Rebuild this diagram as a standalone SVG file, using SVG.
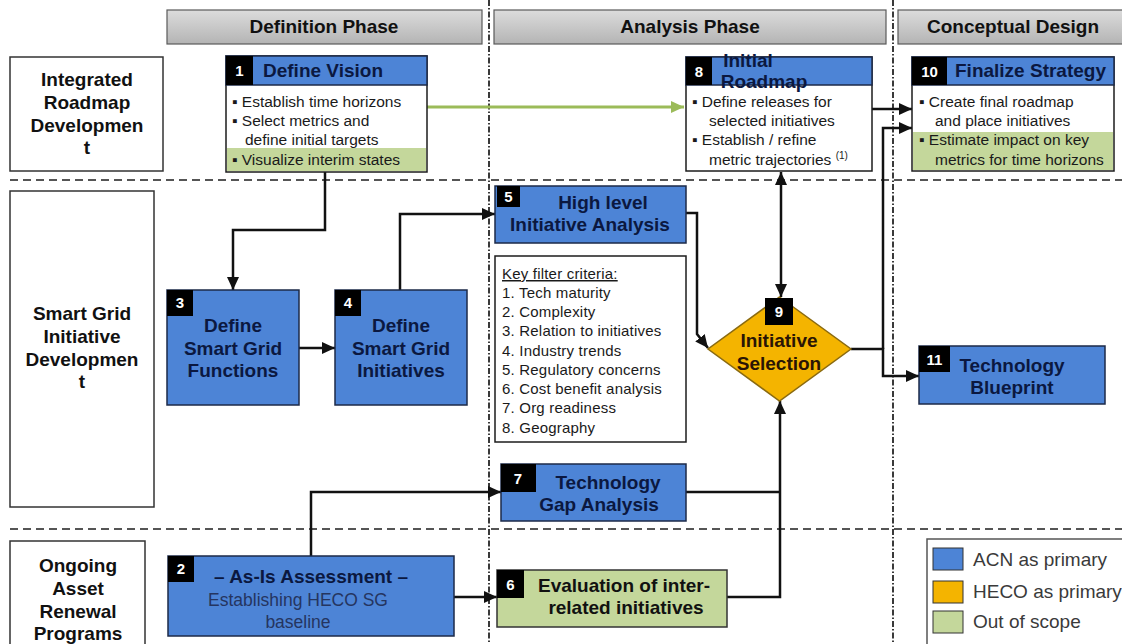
<svg xmlns="http://www.w3.org/2000/svg" width="1122" height="644" viewBox="0 0 1122 644">
<style>
.hdr{fill:url(#gray);stroke:#5a5a5a;stroke-width:1.2}
.hdrt{font-family:"Liberation Sans",Arial,sans-serif;font-weight:bold;font-size:19px;fill:#111;text-anchor:middle}
.lbl{fill:#fff;stroke:#333;stroke-width:1.5}
.lblt{font-family:"Liberation Sans",Arial,sans-serif;font-weight:bold;font-size:19px;fill:#111;text-anchor:middle}
.blue{fill:#4d84d6;stroke:#1c2a48;stroke-width:1.5}
.green{fill:#c4d79b}
.white{fill:#fff;stroke:#1c1c1c;stroke-width:1.5}
.num{fill:#000}
.numt{font-family:"Liberation Sans",Arial,sans-serif;font-weight:bold;font-size:15px;fill:#fff;text-anchor:middle}
.tt{font-family:"Liberation Sans",Arial,sans-serif;font-weight:bold;font-size:19px;fill:#0b1840}
.ttm{font-family:"Liberation Sans",Arial,sans-serif;font-weight:bold;font-size:19px;fill:#0b1840;text-anchor:middle}
.body{font-family:"Liberation Sans",Arial,sans-serif;font-size:15.5px;fill:#1a1a1a}
.crit{font-family:"Liberation Sans",Arial,sans-serif;font-size:15px;fill:#1a1a1a;letter-spacing:0.2px}
.leg{font-family:"Liberation Sans",Arial,sans-serif;font-size:19px;fill:#3a3a3a}
.vsep{stroke:#3a3a3a;stroke-width:2;stroke-dasharray:6,2,1.5,2;fill:none}
.hsep{stroke:#555;stroke-width:2;stroke-dasharray:8,5;fill:none}
.con{fill:none;stroke:#111;stroke-width:2.5}
</style>
<defs>
<linearGradient id="gray" x1="0" y1="0" x2="0" y2="1">
<stop offset="0" stop-color="#dcdcdc"/><stop offset="1" stop-color="#b4b4b4"/>
</linearGradient>
<marker id="ah" markerUnits="userSpaceOnUse" markerWidth="13" markerHeight="12" refX="13" refY="6" orient="auto-start-reverse" viewBox="0 0 13 12">
<path d="M0,0 L13,6 L0,12 z" fill="#111"/>
</marker>
<marker id="ahg" markerUnits="userSpaceOnUse" markerWidth="13" markerHeight="12" refX="13" refY="6" orient="auto" viewBox="0 0 13 12">
<path d="M0,0 L13,6 L0,12 z" fill="#9bbb59"/>
</marker>
</defs>
<rect width="1122" height="644" fill="#fff"/>

<g id="separators">
<line class="vsep" x1="489" y1="0" x2="489" y2="644"/>
<line class="vsep" x1="893" y1="0" x2="893" y2="644"/>
<line class="hsep" x1="10" y1="180" x2="1122" y2="180"/>
<line class="hsep" x1="10" y1="529" x2="1122" y2="529"/>
</g>

<g id="phase-definition"><rect class="hdr" x="167" y="10" width="315" height="34"/><text class="hdrt" x="324" y="33">Definition Phase</text></g>
<g id="phase-analysis"><rect class="hdr" x="494" y="10" width="392" height="34"/><text class="hdrt" x="690" y="33">Analysis Phase</text></g>
<g id="phase-conceptual"><rect class="hdr" x="898" y="10" width="230" height="34"/><text class="hdrt" x="1013" y="33">Conceptual Design</text></g>

<g id="row-roadmap"><rect class="lbl" x="10" y="57" width="153" height="114"/>
<text class="lblt"><tspan x="87" y="86">Integrated</tspan><tspan x="87" y="109">Roadmap</tspan><tspan x="87" y="132">Developmen</tspan><tspan x="87" y="154">t</tspan></text></g>
<g id="row-smartgrid"><rect class="lbl" x="10" y="191" width="144" height="316"/>
<text class="lblt"><tspan x="82" y="320">Smart Grid</tspan><tspan x="82" y="343">Initiative</tspan><tspan x="82" y="366">Developmen</tspan><tspan x="82" y="388">t</tspan></text></g>
<g id="row-asset"><rect class="lbl" x="10" y="541" width="135" height="110"/>
<text class="lblt"><tspan x="78" y="572">Ongoing</tspan><tspan x="78" y="595">Asset</tspan><tspan x="78" y="618">Renewal</tspan><tspan x="78" y="640">Programs</tspan></text></g>

<g id="connectors">
<path d="M427,107 H684" fill="none" stroke="#9bbb59" stroke-width="3" marker-end="url(#ahg)"/>
<path class="con" d="M325,172 V230 H233 V290" marker-end="url(#ah)"/>
<path class="con" d="M299,348 H335" marker-end="url(#ah)"/>
<path class="con" d="M400,290 V214 H495" marker-end="url(#ah)"/>
<path class="con" d="M686,213 H697 V334 L708,348" marker-end="url(#ah)"/>
<path class="con" d="M781,172 V297" marker-start="url(#ah)" marker-end="url(#ah)"/>
<path class="con" d="M872,109 H912" marker-end="url(#ah)"/>
<path class="con" d="M851,349 H883 V376 H919" marker-end="url(#ah)"/>
<path class="con" d="M883,349 V128 H912" marker-end="url(#ah)"/>
<path class="con" d="M311,556 V492 H501" marker-end="url(#ah)"/>
<path class="con" d="M454,597 H497" marker-end="url(#ah)"/>
<path class="con" d="M686,492 H780"/>
<path class="con" d="M727,597 H780 V401" marker-end="url(#ah)"/>
</g>

<g id="node1">
<rect class="white" x="226" y="56" width="201" height="116"/>
<rect class="green" x="227" y="148" width="199" height="23"/>
<rect class="blue" x="226" y="56" width="201" height="29"/>
<rect class="num" x="226" y="56" width="27" height="29"/>
<text class="numt" x="239.5" y="76">1</text>
<text class="tt" x="263" y="77">Define Vision</text>
<text class="body"><tspan x="232" y="107">▪ Establish time horizons</tspan><tspan x="232" y="126">▪ Select metrics and</tspan><tspan x="245" y="145">define initial targets</tspan><tspan x="232" y="165">▪ Visualize interim states</tspan></text>
</g>

<g id="node8">
<rect class="white" x="686" y="57" width="186" height="114"/>
<rect class="blue" x="686" y="57" width="186" height="28"/>
<rect class="num" x="686" y="57" width="26" height="28"/>
<text class="numt" x="699" y="77">8</text>
<text class="ttm"><tspan x="748" y="67">Initial</tspan><tspan x="764" y="88">Roadmap</tspan></text>
<text class="body"><tspan x="692" y="107">▪ Define releases for</tspan><tspan x="709" y="126">selected initiatives</tspan><tspan x="692" y="145">▪ Establish / refine</tspan><tspan x="709" y="165">metric trajectories <tspan font-size="10" dy="-6">(1)</tspan></tspan></text>
</g>

<g id="node10">
<rect class="white" x="912" y="57" width="202" height="114"/>
<rect class="green" x="913" y="132" width="200" height="38"/>
<rect class="blue" x="912" y="57" width="202" height="28"/>
<rect class="num" x="912" y="57" width="35" height="28"/>
<text class="numt" x="929.5" y="77">10</text>
<text class="tt" x="955" y="77">Finalize Strategy</text>
<text class="body"><tspan x="919" y="107">▪ Create final roadmap</tspan><tspan x="935" y="126">and place initiatives</tspan><tspan x="919" y="145">▪ Estimate impact on key</tspan><tspan x="935" y="165">metrics for time horizons</tspan></text>
</g>

<g id="node3">
<rect class="blue" x="167" y="290" width="132" height="115"/>
<rect class="num" x="167" y="290" width="26" height="26"/>
<text class="numt" x="180" y="308">3</text>
<text class="ttm"><tspan x="233" y="332">Define</tspan><tspan x="233" y="355">Smart Grid</tspan><tspan x="233" y="377">Functions</tspan></text>
</g>

<g id="node4">
<rect class="blue" x="335" y="290" width="132" height="115"/>
<rect class="num" x="335" y="290" width="26" height="26"/>
<text class="numt" x="348" y="308">4</text>
<text class="ttm"><tspan x="401" y="332">Define</tspan><tspan x="401" y="355">Smart Grid</tspan><tspan x="401" y="377">Initiatives</tspan></text>
</g>

<g id="node5">
<rect class="blue" x="495" y="186" width="191" height="57"/>
<rect class="num" x="497" y="186" width="23" height="21"/>
<text class="numt" x="508.5" y="202">5</text>
<text class="ttm"><tspan x="603" y="209">High level</tspan><tspan x="590" y="231">Initiative Analysis</tspan></text>
</g>

<g id="criteria">
<rect class="white" x="495" y="256" width="191" height="186"/>
<text class="crit"><tspan x="502" y="279" text-decoration="underline">Key filter criteria:</tspan><tspan x="502" y="298">1. Tech maturity</tspan><tspan x="502" y="317">2. Complexity</tspan><tspan x="502" y="336">3. Relation to initiatives</tspan><tspan x="502" y="356">4. Industry trends</tspan><tspan x="502" y="375">5. Regulatory concerns</tspan><tspan x="502" y="394">6. Cost benefit analysis</tspan><tspan x="502" y="413">7. Org readiness</tspan><tspan x="502" y="433">8. Geography</tspan></text>
</g>

<g id="node9">
<polygon points="779.5,297 851,349 779.5,401 708,349" fill="#f4b400" stroke="#8a6a10" stroke-width="1.5"/>
<rect class="num" x="765" y="298" width="28" height="27"/>
<text class="numt" x="779" y="317">9</text>
<text class="ttm"><tspan x="779" y="347" fill="#2a1505">Initiative</tspan><tspan x="779" y="370" fill="#2a1505">Selection</tspan></text>
</g>

<g id="node11">
<rect class="blue" x="919" y="346" width="186" height="58"/>
<rect class="num" x="919" y="346" width="31" height="26"/>
<text class="numt" x="934.5" y="365">11</text>
<text class="ttm"><tspan x="1012" y="372">Technology</tspan><tspan x="1012" y="394">Blueprint</tspan></text>
</g>

<g id="node7">
<rect class="blue" x="501" y="464" width="185" height="57"/>
<rect class="num" x="501" y="464" width="35" height="28"/>
<text class="numt" x="518" y="484">7</text>
<text class="ttm"><tspan x="608" y="489">Technology</tspan><tspan x="599" y="511">Gap Analysis</tspan></text>
</g>

<g id="node2">
<rect class="blue" x="168" y="556" width="286" height="80"/>
<rect class="num" x="168" y="556" width="26" height="26"/>
<text class="numt" x="181" y="574">2</text>
<text class="ttm" x="311" y="583">– As-Is Assessment –</text>
<text font-family="Liberation Sans, Arial, sans-serif" font-size="17.5" fill="#253560" text-anchor="middle"><tspan x="298" y="606">Establishing HECO SG</tspan><tspan x="298" y="628">baseline</tspan></text>
</g>

<g id="node6">
<rect x="497" y="570" width="230" height="57" fill="#c4d79b" stroke="#333" stroke-width="1.5"/>
<rect class="num" x="497" y="570" width="27" height="28"/>
<text class="numt" x="510.5" y="590">6</text>
<text font-family="Liberation Sans, Arial, sans-serif" font-weight="bold" font-size="19" fill="#111" text-anchor="middle"><tspan x="624" y="592">Evaluation of inter-</tspan><tspan x="626" y="614">related initiatives</tspan></text>
</g>

<g id="legend">
<rect x="927" y="539" width="200" height="110" fill="#fff" stroke="#555" stroke-width="1.5"/>
<rect x="933" y="548" width="30" height="22" fill="#4d84d6" stroke="#333"/>
<rect x="933" y="581" width="30" height="22" fill="#f4b400" stroke="#333"/>
<rect x="933" y="611" width="30" height="22" fill="#c4d79b" stroke="#333"/>
<text class="leg" x="973" y="566">ACN as primary</text>
<text class="leg" x="973" y="598">HECO as primary</text>
<text class="leg" x="973" y="628">Out of scope</text>
</g>
</svg>
